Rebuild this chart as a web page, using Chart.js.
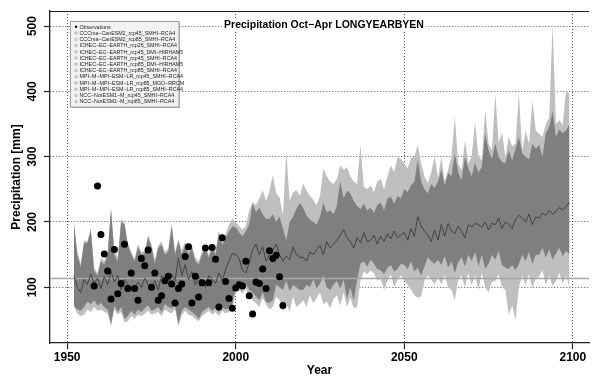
<!DOCTYPE html>
<html>
<head>
<meta charset="utf-8">
<script src="https://cdn.jsdelivr.net/npm/chart.js@4.4.1/dist/chart.umd.min.js"></script>
<style>
  html, body { margin: 0; padding: 0; background: #fff; overflow: hidden; }
  canvas { display: block; }
</style>
</head>
<body>
<canvas id="precip" width="593" height="379"></canvas>
<script>
// yearly ensemble envelope, 1952-2099
const firstYear = 1952

const lightHi = [
  200, 155, 136, 172, 170, 190, 130, 122,
  145, 140, 154, 222, 156, 146, 204, 200, 168, 155,
  144, 166, 154, 156, 180, 166, 142, 164, 170, 154,
  160, 198, 154, 174, 156, 170, 156, 164, 146, 140,
  155, 164, 150, 166, 156, 186, 170, 182, 196, 205,
  200, 194, 188, 194, 218, 231, 226, 236, 249, 232,
  248, 272, 244, 238, 210, 308, 232, 245, 249, 240,
  259, 248, 240, 234, 226, 240, 282, 270, 262, 258,
  266, 287, 280, 284, 270, 262, 258, 318, 254, 250,
  256, 246, 262, 266, 250, 270, 287, 276, 300, 296,
  290, 282, 298, 300, 318, 290, 270, 260, 276, 300,
  268, 300, 262, 280, 300, 361, 290, 280, 325, 290,
  300, 354, 300, 295, 371, 320, 310, 397, 322, 336,
  300, 330, 316, 320, 397, 310, 340, 320, 387, 340,
  335, 330, 350, 360, 504, 350, 356, 348, 402, 396
]

const darkHi = [
  198, 150, 131, 168, 168, 188, 125, 118,
  140, 135, 150, 219, 150, 140, 200, 196, 165, 150,
  140, 162, 150, 152, 177, 162, 137, 160, 165, 150,
  155, 194, 150, 170, 150, 165, 150, 160, 140, 135,
  150, 160, 145, 160, 150, 183, 165, 175, 185, 193,
  192, 184, 178, 186, 196, 228, 215, 222, 212, 205,
  205, 212, 200, 208, 190, 172, 200, 208, 220, 229,
  222, 210, 204, 200, 196, 208, 229, 215, 218, 212,
  225, 262, 236, 248, 244, 232, 224, 220, 228, 218,
  222, 214, 226, 230, 218, 236, 239, 228, 240, 236,
  250, 246, 256, 262, 295, 262, 250, 244, 258, 252,
  262, 280, 256, 275, 270, 305, 276, 264, 300, 282,
  270, 290, 276, 284, 335, 310, 296, 320, 300, 292,
  290, 310, 294, 312, 330, 305, 300, 296, 320, 312,
  318, 300, 336, 345, 370, 330, 342, 336, 340, 350
]

const median = [
  118, 100, 92, 112, 104, 120, 106, 114,
  98, 116, 104, 124, 108, 118, 96, 112, 104, 98,
  96, 108, 100, 114, 104, 98, 110, 96, 118, 112,
  106, 120, 110, 145, 118, 135, 112, 124, 104, 116,
  108, 100, 118, 112, 106, 122, 110, 128, 140, 152,
  150, 144, 126, 122, 138, 158, 166, 150, 162, 140,
  150, 158, 166, 150, 140, 148, 142, 162, 150, 146,
  146, 140, 154, 150, 158, 164, 150, 170, 160, 166,
  172, 180, 188, 176, 170, 160, 176, 168, 184, 170,
  172, 180, 166, 178, 170, 182, 174, 186, 176, 180,
  184, 172, 190, 178, 208, 194, 186, 180, 170, 188,
  172, 196, 178, 198, 186, 182, 194, 186, 176, 196,
  192, 198, 196, 192, 200, 188, 198, 196, 206, 190,
  200, 196, 190, 204, 210, 206, 200, 212, 196, 208,
  206, 214, 210, 218, 212, 216, 222, 218, 224, 230
]

const darkLo = [
  72, 66, 64, 70, 78, 74, 80, 72,
  76, 70, 66, 44, 72, 62, 70, 52, 56, 64,
  58, 66, 62, 68, 72, 64, 66, 70, 62, 74,
  70, 68, 72, 44, 64, 70, 66, 62, 58, 52,
  62, 66, 70, 64, 68, 62, 70, 66, 68, 74,
  100, 104, 98, 106, 96, 92, 86, 80, 92, 78,
  76, 80, 104, 100, 96, 110, 94, 104, 100, 96,
  96, 104, 100, 112, 98, 106, 118, 100, 96, 104,
  110, 98, 112, 82, 100, 80, 112, 136, 140, 132,
  142, 136, 128, 126, 120, 130, 134, 124, 128, 136,
  134, 128, 140, 124, 130, 118, 132, 146, 140, 136,
  142, 134, 148, 130, 140, 122, 138, 146, 132, 150,
  140, 154, 132, 150, 128, 136, 150, 142, 156, 134,
  130, 128, 134, 126, 136, 150, 140, 154, 136, 150,
  150, 160, 146, 158, 142, 152, 160, 148, 156, 150
]

const lightLo = [
  70, 60, 56, 58, 66, 62, 70, 64,
  66, 62, 60, 40, 66, 58, 62, 46, 48, 56,
  52, 58, 56, 60, 64, 58, 60, 62, 56, 66,
  62, 60, 66, 40, 58, 64, 58, 56, 52, 48,
  56, 60, 64, 58, 62, 56, 64, 60, 62, 68,
  92, 96, 90, 98, 86, 80, 76, 70, 84, 74,
  66, 70, 86, 80, 62, 76, 62, 86, 70, 74,
  80, 70, 88, 76, 84, 92, 74, 78, 68, 82,
  88, 72, 92, 70, 84, 68, 70, 110, 124, 120,
  126, 122, 110, 114, 96, 110, 120, 100, 112, 118,
  110, 104, 96, 88, 84, 86, 110, 118, 112, 104,
  116, 104, 118, 100, 96, 80, 112, 118, 100, 122,
  104, 118, 96, 122, 100, 92, 108, 110, 120, 100,
  96, 58, 72, 50, 100, 118, 104, 120, 98, 114,
  116, 126, 104, 118, 102, 110, 122, 106, 118, 100
]

// station observations
const obsFirstYear = 1958
const observed = [
  102, 255,
  181, 151, 125, 82, 158, 90, 106, 166, 98, 122,
  98, 80, 144, 133, 157, 100, 122, 80, 87, 110,
  117, 105, 76, 98, 105, 147, 162, 76, 117, 85,
  107, 160, 107, 161, 143, 70, 176, 109, 83, 68,
  99, 104, 102, 140, 87, 59, 108, 106, 128, 98,
  156, 144, 149, 116, 72
]
const observedMean = 113.5

const xTicks = [1950, 2000, 2050, 2100]
const yTicks = [100, 200, 300, 400, 500]

const titleText = 'Precipitation Oct\u2212Apr LONGYEARBYEN'
const legendItems = [
  'Observations',
  'CCCma\u2212CanESM2_rcp45_SMHI\u2212RCA4',
  'CCCma\u2212CanESM2_rcp85_SMHI\u2212RCA4',
  'ICHEC\u2212EC\u2212EARTH_rcp26_SMHI\u2212RCA4',
  'ICHEC\u2212EC\u2212EARTH_rcp45_DMI\u2212HIRHAM5',
  'ICHEC\u2212EC\u2212EARTH_rcp45_SMHI\u2212RCA4',
  'ICHEC\u2212EC\u2212EARTH_rcp85_DMI\u2212HIRHAM5',
  'ICHEC\u2212EC\u2212EARTH_rcp85_SMHI\u2212RCA4',
  'MPI\u2212M\u2212MPI\u2212ESM\u2212LR_rcp45_SMHI\u2212RCA4',
  'MPI\u2212M\u2212MPI\u2212ESM\u2212LR_rcp85_MGO\u2212RRCM',
  'MPI\u2212M\u2212MPI\u2212ESM\u2212LR_rcp85_SMHI\u2212RCA4',
  'NCC\u2212NorESM1\u2212M_rcp45_SMHI\u2212RCA4',
  'NCC\u2212NorESM1\u2212M_rcp85_SMHI\u2212RCA4'
]

const toPoints = (arr, start) => arr.map((v, i) => ({x: start + i, y: v}))
const font = '"Liberation Sans", Arial, sans-serif'

const band = (data, color, fillTo, order) => ({
  data: toPoints(data, firstYear),
  borderColor: 'rgba(0,0,0,0)',
  borderWidth: 0,
  pointRadius: 0,
  backgroundColor: color,
  fill: fillTo === null ? false : {target: fillTo},
  tension: 0,
  order: order
})

// frame top line, title and the legend box
const extras = {
  id: 'extras',
  afterDraw(chart) {
    const {ctx, chartArea: a} = chart
    ctx.save()
    ctx.strokeStyle = '#222'
    ctx.lineWidth = 1.2
    ctx.beginPath()
    ctx.moveTo(a.left, a.top + 0.5)
    ctx.lineTo(a.right, a.top + 0.5)
    ctx.stroke()

    ctx.font = 'bold 10.5px ' + font
    const tw = ctx.measureText(titleText).width
    ctx.fillStyle = '#fff'
    ctx.fillRect(324 - tw / 2 - 2, 20, tw + 4, 12)
    ctx.fillStyle = '#000'
    ctx.textAlign = 'center'
    ctx.textBaseline = 'middle'
    ctx.fillText(titleText, 324, 25.5)

    // legend
    const bx = 70.5, by = 21.5, bw = 108.5, bh = 85.5
    ctx.fillStyle = '#bdbdbd'
    ctx.fillRect(bx + 1, by + 1, bw, bh)
    ctx.fillStyle = '#f2f2f2'
    ctx.fillRect(bx, by, bw, bh)
    ctx.strokeStyle = '#8c8c8c'
    ctx.lineWidth = 0.8
    ctx.strokeRect(bx, by, bw, bh)
    ctx.font = '5.3px ' + font
    ctx.textAlign = 'left'
    legendItems.forEach((t, i) => {
      const y = 26.8 + i * 6.24
      ctx.beginPath()
      ctx.arc(76, y, 1.2, 0, Math.PI * 2)
      if (i === 0) {
        ctx.fillStyle = '#000'
        ctx.fill()
      } else {
        ctx.strokeStyle = '#888'
        ctx.lineWidth = 0.6
        ctx.stroke()
      }
      ctx.fillStyle = '#222'
      ctx.fillText(t, 79.5, y + 0.3)
    })
    ctx.restore()
  }
}

const gridOpts = {
  color: '#555',
  lineWidth: 1,
  tickColor: '#222',
  tickLength: 6,
  tickWidth: 1.2
}

new Chart(document.querySelector('#precip'), {
  type: 'line',
  data: {
    datasets: [
      {
        type: 'scatter',
        data: toPoints(observed, obsFirstYear),
        backgroundColor: '#000',
        borderColor: '#000',
        pointRadius: 3.5,
        pointBorderWidth: 0,
        showLine: false,
        order: 0
      },
      {
        data: toPoints(median, firstYear),
        borderColor: '#3c3c3c',
        borderWidth: 0.9,
        pointRadius: 0,
        fill: false,
        tension: 0,
        order: 1
      },
      {
        data: [{x: 1940, y: observedMean}, {x: 2110, y: observedMean}],
        borderColor: '#a6a6a6',
        borderWidth: 1.6,
        pointRadius: 0,
        fill: false,
        order: 2
      },
      band(darkHi, '#7f7f7f', 4, 3),
      band(darkLo, '#7f7f7f', null, 4),
      band(lightHi, '#bfbfbf', 6, 5),
      band(lightLo, '#bfbfbf', null, 6)
    ]
  },
  options: {
    responsive: false,
    devicePixelRatio: 1,
    animation: false,
    layout: {padding: {top: 11, left: 0, right: 0, bottom: 0}},
    plugins: {
      legend: {display: false},
      tooltip: {enabled: false}
    },
    scales: {
      x: {
        type: 'linear',
        min: 1944.9,
        max: 2104.8,
        afterBuildTicks: s => { s.ticks = xTicks.map(v => ({value: v})) },
        afterFit: s => { s.height = 36 },
        grid: gridOpts,
        border: {display: true, color: '#222', width: 1.3, dash: [1, 2]},
        ticks: {
          color: '#000',
          padding: 1,
          maxRotation: 0,
          font: {family: font, size: 12, weight: 'bold'},
          callback: v => String(v)
        },
        title: {
          display: true,
          text: 'Year',
          color: '#000',
          padding: {top: 0, bottom: 1},
          font: {family: font, size: 12, weight: 'bold'}
        }
      },
      y: {
        type: 'linear',
        min: 14.7,
        max: 523.1,
        afterBuildTicks: s => { s.ticks = yTicks.map(v => ({value: v})) },
        afterFit: s => { s.width = 50 },
        grid: gridOpts,
        border: {display: true, color: '#222', width: 1.3, dash: [1, 2]},
        ticks: {
          color: '#000',
          padding: 1,
          minRotation: 90,
          maxRotation: 90,
          crossAlign: 'center',
          font: {family: font, size: 12, weight: 'bold'},
          callback: v => String(v)
        },
        title: {
          display: true,
          text: 'Precipitation [mm]',
          color: '#000',
          padding: {top: 9, bottom: 0},
          font: {family: font, size: 12, weight: 'bold'}
        }
      }
    }
  },
  plugins: [extras]
})
</script>
</body>
</html>
